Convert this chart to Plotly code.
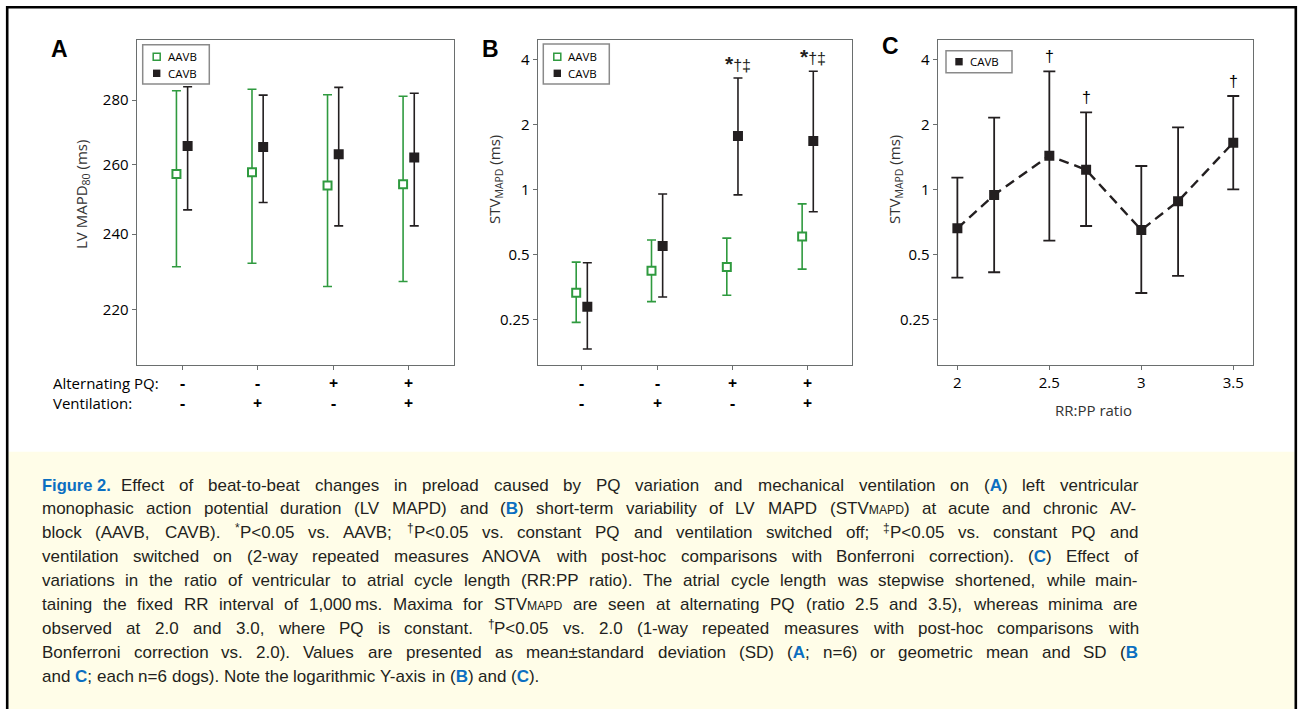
import math
import plotly.graph_objects as go

W, H = 1298, 709

# ---------------- data ----------------
cats = [0, 1, 2, 3]
alt_pq = ["-", "-", "+", "+"]
vent = ["-", "+", "-", "+"]

a_aavb_mean = [257.2, 257.7, 253.8, 254.2]
a_aavb_hi = [283.0, 283.5, 281.7, 281.2]
a_aavb_lo = [231.2, 232.1, 226.0, 227.3]
a_cavb_mean = [265.6, 265.3, 263.1, 262.1]
a_cavb_hi = [284.3, 281.6, 284.1, 282.2]
a_cavb_lo = [246.8, 248.9, 242.3, 242.3]

b_aavb_mean = [0.332, 0.420, 0.437, 0.604]
b_aavb_hi = [0.460, 0.582, 0.594, 0.856]
b_aavb_lo = [0.242, 0.302, 0.323, 0.427]
b_cavb_mean = [0.286, 0.546, 1.766, 1.674]
b_cavb_hi = [0.457, 0.951, 3.276, 3.52]
b_cavb_lo = [0.182, 0.317, 0.942, 0.787]
b_sig = ["", "", "*†‡", "*†‡"]

c_ratio = [2.0, 2.2, 2.5, 2.7, 3.0, 3.2, 3.5]
c_mean = [0.660, 0.942, 1.431, 1.231, 0.648, 0.880, 1.644]
c_hi = [1.133, 2.146, 3.52, 2.27, 1.282, 1.937, 2.705]
c_lo = [0.390, 0.413, 0.578, 0.676, 0.331, 0.397, 1.0]
c_sig = ["", "", "†", "†", "", "", "†"]

a_ticks = [220, 240, 260, 280]
stv_ticks = [0.25, 0.5, 1, 2, 4]
stv_ticktext = ["0.25", "0.5", "1", "2", "4"]
c_ticks = [2, 2.5, 3, 3.5]
c_ticktext = ["2", "2.5", "3", "3.5"]

caption_prefix = "Figure 2."
caption_lines = [
    "Effect of beat-to-beat changes in preload caused by PQ variation and mechanical ventilation on (<b>A</b>) left ventricular",
    "monophasic action potential duration (LV MAPD) and (<b>B</b>) short-term variability of LV MAPD (STV<sm>MAPD</sm>) at acute and chronic AV-",
    "block (AAVB, CAVB). <sup>*</sup>P<0.05 vs. AAVB; <sup>†</sup>P<0.05 vs. constant PQ and ventilation switched off; <sup>‡</sup>P<0.05 vs. constant PQ and",
    "ventilation switched on (2-way repeated measures ANOVA with post-hoc comparisons with Bonferroni correction). (<b>C</b>) Effect of",
    "variations in the ratio of ventricular to atrial cycle length (RR:PP ratio). The atrial cycle length was stepwise shortened, while main-",
    "taining the fixed RR interval of 1,000\u2009ms. Maxima for STV<sm>MAPD</sm> are seen at alternating PQ (ratio 2.5 and 3.5), whereas minima are",
    "observed at 2.0 and 3.0, where PQ is constant. <sup>†</sup>P<0.05 vs. 2.0 (1-way repeated measures with post-hoc comparisons with",
    "Bonferroni correction vs. 2.0). Values are presented as mean±standard deviation (SD) (<b>A</b>; n=6) or geometric mean and SD (<b>B</b>",
    "and <b>C</b>; each n=6 dogs). Note the logarithmic Y-axis in (<b>B</b>) and (<b>C</b>).",
]

# ---------------- styles ----------------
GREEN = "#2f9a3f"
DARK = "#231f20"
FRAME = "#6a6e6e"
BLUE = "#0b6fc1"
FONT = "Open Sans"
CAP_FONT = "Liberation Sans"
DX = 0.074


def PX(x):
    return x / W


def PY(y):
    return 1 - y / H


fig = go.Figure()


def err(mean, hi, lo):
    return dict(type="data", symmetric=False,
                array=[h - m for h, m in zip(hi, mean)],
                arrayminus=[m - l for m, l in zip(mean, lo)])


def add_pair(xa, ya, am, ah, al, cm, ch, cl):
    e1 = err(am, ah, al)
    e1.update(color=GREEN, thickness=1.6, width=4.5)
    fig.add_trace(go.Scatter(x=[c - DX for c in cats], y=am, mode="markers",
                             xaxis=xa, yaxis=ya, showlegend=False, name="AAVB",
                             marker=dict(symbol="square", size=8, color="white",
                                         line=dict(color=GREEN, width=2)),
                             error_y=e1))
    e2 = err(cm, ch, cl)
    e2.update(color=DARK, thickness=1.6, width=4.5)
    fig.add_trace(go.Scatter(x=[c + DX for c in cats], y=cm, mode="markers",
                             xaxis=xa, yaxis=ya, showlegend=False, name="CAVB",
                             marker=dict(symbol="square", size=10, color=DARK, line=dict(width=0)),
                             error_y=e2))


add_pair("x", "y", a_aavb_mean, a_aavb_hi, a_aavb_lo, a_cavb_mean, a_cavb_hi, a_cavb_lo)
add_pair("x2", "y2", b_aavb_mean, b_aavb_hi, b_aavb_lo, b_cavb_mean, b_cavb_hi, b_cavb_lo)

ec = err(c_mean, c_hi, c_lo)
ec.update(color=DARK, thickness=1.8, width=6)
fig.add_trace(go.Scatter(x=c_ratio, y=c_mean, mode="lines+markers", xaxis="x3", yaxis="y3",
                         showlegend=False, name="CAVB",
                         line=dict(color=DARK, width=2.4, dash="10px,6px"),
                         marker=dict(symbol="square", size=10, color=DARK),
                         error_y=ec))

tickfont = dict(family=FONT, size=15, color="black")
common_x = dict(showline=True, mirror=True, linecolor=FRAME, linewidth=1.2, ticks="outside",
                ticklen=4, tickcolor=FRAME, showgrid=False, zeroline=False, tickfont=tickfont)
common_y = dict(showline=True, mirror=True, linecolor=FRAME, linewidth=1.2, ticks="outside",
                ticklen=4, tickcolor=FRAME, showgrid=False, zeroline=False, tickfont=tickfont,
                type="log")
ydom = [PY(365), PY(40)]

fig.update_layout(
    width=W, height=H, margin=dict(l=0, r=0, t=0, b=0),
    paper_bgcolor="white", plot_bgcolor="white", showlegend=False,
    xaxis=dict(domain=[PX(136.7), PX(454)], range=[-0.6, 3.6], tickvals=cats,
               showticklabels=False, anchor="y", **common_x),
    yaxis=dict(domain=ydom, range=[math.log10(206.5), math.log10(300)], tickvals=a_ticks,
               anchor="x", **common_y),
    xaxis2=dict(domain=[PX(537.7), PX(852.3)], range=[-0.585, 3.592], tickvals=cats,
                showticklabels=False, anchor="y2", **common_x),
    yaxis2=dict(domain=ydom, range=[math.log10(0.15357), math.log10(4.914)], tickvals=stv_ticks,
                ticktext=stv_ticktext, anchor="x2", **common_y),
    xaxis3=dict(domain=[PX(937.7), PX(1253.3)], range=[1.893, 3.609], tickvals=c_ticks,
                ticktext=c_ticktext, anchor="y3", **common_x),
    yaxis3=dict(domain=ydom, range=[math.log10(0.15357), math.log10(4.914)], tickvals=stv_ticks,
                ticktext=stv_ticktext, anchor="x3", **common_y),
)

ann = []
shapes = []


def note(text, x, y, size, color="black", family=FONT, xanchor="center", yanchor="middle", **kw):
    d = dict(text=text, x=PX(x), y=PY(y), xref="paper", yref="paper", xanchor=xanchor,
             yanchor=yanchor, showarrow=False, borderpad=0,
             font=dict(family=family, size=size, color=color))
    d.update(kw)
    ann.append(d)


# caption background and outer border
shapes.append(dict(type="rect", xref="paper", yref="paper", x0=PX(8.5), x1=PX(1294.5),
                   y0=-0.05, y1=PY(451.7), fillcolor="#fffde8", line=dict(width=0), layer="below"))
shapes.append(dict(type="rect", xref="paper", yref="paper", x0=PX(7.2), x1=PX(1295.8),
                   y0=-0.05, y1=PY(7.2), line=dict(color="black", width=2.6), layer="above"))

# panel letters
for lab, x, y in [("A", 59, 49), ("B", 490, 49), ("C", 891, 46)]:
    note(f"<b>{lab}</b>", x, y, 23, family="Liberation Sans")

# y titles
for t, x, y in [("LV MAPD<sub>80</sub> (ms)", 82, 195), ("STV<sub>MAPD</sub> (ms)", 495, 180),
                ("STV<sub>MAPD</sub> (ms)", 895, 180)]:
    note(t, x, y, 15, color="#333", textangle=-90)

note("RR:PP ratio", 1093, 410, 15, color="#333")

# condition rows
for lab, y in [("Alternating PQ:", 382.7), ("Ventilation:", 403.3)]:
    note(lab, 51.7, y, 15, xanchor="left")
for xr in ["x", "x2"]:
    for c, s1, s2 in zip(cats, alt_pq, vent):
        for s, y in [(s1, 382.7), (s2, 403.3)]:
            ann.append(dict(text=f"<b>{s}</b>", x=c, xref=xr, y=PY(y), yref="paper",
                            xanchor="center", yanchor="middle",
                            showarrow=False, font=dict(family=FONT, size=16, color="black")))

# significance markers
for c, s, h in zip(cats, b_sig, b_cavb_hi):
    if s:
        txt = '<b><span style="font-size:21px">' + s[0] + '</span></b>' + s[1:]
        ann.append(dict(text=txt, x=c + DX, xref="x2", y=math.log10(h), yref="y2",
                        xanchor="center", yanchor="bottom", yshift=1, showarrow=False,
                        font=dict(family="Liberation Sans", size=16, color=DARK)))
for r, s, h in zip(c_ratio, c_sig, c_hi):
    if s:
        ann.append(dict(text=s, x=r, xref="x3", y=math.log10(h), yref="y3",
                        xanchor="center", yanchor="bottom", yshift=4, showarrow=False,
                        font=dict(family="Liberation Sans", size=16, color="black")))


# legends (manual boxes)
def legend(box, items):
    x0, y0, x1, y1 = box
    shapes.append(dict(type="rect", xref="paper", yref="paper", x0=PX(x0), x1=PX(x1), y0=PY(y1),
                       y1=PY(y0), line=dict(color="#8a8a8a", width=1.5), fillcolor="white"))
    for kind, sx, sy, tx, label in items:
        if kind == "open":
            shapes.append(dict(type="rect", xref="paper", yref="paper", x0=PX(sx - 3.5),
                               x1=PX(sx + 3.5), y0=PY(sy + 3.5), y1=PY(sy - 3.5),
                               line=dict(color=GREEN, width=1.5), fillcolor="white"))
        else:
            shapes.append(dict(type="rect", xref="paper", yref="paper", x0=PX(sx - 3.7),
                               x1=PX(sx + 3.7), y0=PY(sy + 3.7), y1=PY(sy - 3.7),
                               line=dict(width=0), fillcolor=DARK))
        note(label, tx, sy, 11.5, xanchor="left")


legend((142.7, 44.7, 209.3, 84), [("open", 156.7, 56.7, 166.5, "AAVB"), ("fill", 156.7, 73.3, 166.5, "CAVB")])
legend((543.3, 44, 609.3, 84), [("open", 557.3, 56.7, 567, "AAVB"), ("fill", 557.3, 73.3, 567, "CAVB")])
legend((946, 50.7, 1012, 72.7), [("fill", 959, 61.7, 968.5, "CAVB")])

# ---------------- caption (justified with Arial-compatible metrics) ----------------
AW = {' ': 278, '!': 278, '(': 333, ')': 333, '*': 389, '+': 584, ',': 278, '-': 333, '.': 278,
      '/': 278, ':': 278, ';': 278, '<': 584, '=': 584, '>': 584, '±': 584, '†': 556, '‡': 556,
      '\u2009': 200,
      'A': 667, 'B': 667, 'C': 722, 'D': 722, 'E': 667, 'F': 611, 'G': 778, 'H': 722, 'I': 278,
      'J': 500, 'K': 667, 'L': 556, 'M': 833, 'N': 722, 'O': 778, 'P': 667, 'Q': 778, 'R': 722,
      'S': 667, 'T': 611, 'U': 722, 'V': 667, 'W': 944, 'X': 667, 'Y': 667, 'Z': 611,
      'a': 556, 'b': 556, 'c': 500, 'd': 556, 'e': 556, 'f': 278, 'g': 556, 'h': 556, 'i': 222,
      'j': 222, 'k': 500, 'l': 222, 'm': 833, 'n': 556, 'o': 556, 'p': 556, 'q': 556, 'r': 333,
      's': 500, 't': 278, 'u': 556, 'v': 500, 'w': 722, 'x': 500, 'y': 500, 'z': 500}
for d in "0123456789":
    AW[d] = 556
BOLDW = {'A': 722, 'B': 722, 'C': 722}
SM = 0.72
SUP = 0.7
TAGS = {"<b>": "b", "</b>": None, "<sup>": "sup", "</sup>": None, "<sm>": "sm", "</sm>": None}


def word_em(wd):
    i, total, state = 0, 0.0, None
    while i < len(wd):
        hit = False
        for tg, st in TAGS.items():
            if wd.startswith(tg, i):
                state = st
                i += len(tg)
                hit = True
                break
        if hit:
            continue
        ch = wd[i]
        i += 1
        w = AW.get(ch, 556)
        if state == "b":
            w = BOLDW.get(ch, w)
        elif state == "sup":
            w *= SUP
        elif state == "sm":
            w *= SM
        total += w
    return total / 1000.0


LEFT, RIGHT = 41.0, 1137.0
FIRST_START = 120.0
sizes = []
for li, line in enumerate(caption_lines[:-1]):
    words = line.split(" ")
    x_start = FIRST_START if li == 0 else LEFT
    natural = sum(word_em(w) for w in words) + (len(words) - 1) * 0.278
    sizes.append((RIGHT - x_start) / natural)
CAP_SIZE = min(17.0, 0.985 * min(sizes))


def to_plotly(wd):
    wd = wd.replace("<b>", f'<b><span style="color:{BLUE}">').replace("</b>", "</span></b>")
    wd = wd.replace("<sm>", f'<span style="font-size:{CAP_SIZE * SM:.1f}px">').replace("</sm>", "</span>")
    wd = wd.replace("<", "&lt;") if "<" in wd and ">" not in wd else wd
    return wd


def put_word(w, x, y):
    if w.startswith("<sup>"):
        end = w.index("</sup>")
        mark = w[5:end]
        note(mark, x, y - 5, CAP_SIZE * SUP, color=DARK, family=CAP_FONT, xanchor="left")
        x += word_em(mark) * SUP * CAP_SIZE
        rest = w[end + 6:].replace("<", "&lt;")
        txt = f'<span style="font-family:{CAP_FONT};font-size:{CAP_SIZE:.2f}px">{rest}</span>'
        note(txt, x, y, CAP_SIZE, color=DARK, family=CAP_FONT, xanchor="left")
        return
    note(to_plotly(w), x, y, CAP_SIZE, color=DARK, family=CAP_FONT, xanchor="left")


note(f"<b>{caption_prefix}</b>", LEFT, 485, 16.5, color=BLUE, family=CAP_FONT, xanchor="left")

space_w = 0.278 * CAP_SIZE
for li, line in enumerate(caption_lines):
    y = 485 + li * 23.96
    words = line.split(" ")
    widths = [word_em(w) * CAP_SIZE for w in words]
    x_start = FIRST_START if li == 0 else LEFT
    if li < len(caption_lines) - 1 and len(words) > 1:
        gap = (RIGHT - x_start - sum(widths)) / (len(words) - 1)
    else:
        gap = space_w
    x = x_start
    for w, ww in zip(words, widths):
        put_word(w, x, y)
        x += ww + gap

fig.update_layout(annotations=ann, shapes=shapes)
fig.write_html("out.html")
